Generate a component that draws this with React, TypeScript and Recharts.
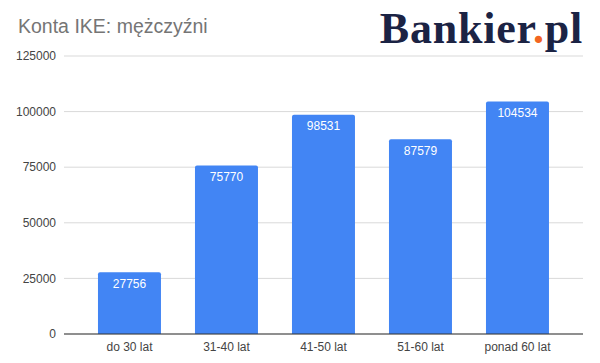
import { Bar, BarChart, CartesianGrid, LabelList, XAxis, YAxis } from "recharts";

const categories = ["do 30 lat", "31-40 lat", "41-50 lat", "51-60 lat", "ponad 60 lat"];
const accounts = [27756, 75770, 98531, 87579, 104534];
const yTicks = [0, 25000, 50000, 75000, 100000, 125000];

const data = categories.map((label, i) => ({ label, value: accounts[i] }));

export default function App() {
  return (
    <div
      style={{
        position: "fixed",
        top: 0,
        left: 0,
        width: 600,
        height: 363,
        background: "#fff",
        fontFamily: "Arial, 'Liberation Sans', sans-serif",
      }}
    >
      <div style={{ position: "absolute", left: 18, top: 15, fontSize: 19.5, lineHeight: "22px", color: "#757575" }}>
        Konta IKE: mężczyźni
      </div>
      <div
        style={{
          position: "absolute",
          right: 17,
          top: 3,
          fontSize: 44,
          fontWeight: 700,
          fontFamily: "'Liberation Serif', 'DejaVu Serif', serif",
          color: "#1b2344",
          letterSpacing: 0.8,
        }}
      >
        Bankier<span style={{ color: "#f26522" }}>.</span>pl
      </div>
      <BarChart
        width={600}
        height={363}
        data={data}
        margin={{ top: 56, right: 17, left: 0, bottom: 0 }}
        barCategoryGap="17.5%"
      >
        <CartesianGrid vertical={false} stroke="#d9d9d9" />
        <XAxis
          dataKey="label"
          padding={{ left: 17, right: 17 }}
          tickLine={false}
          axisLine={{ stroke: "#333" }}
          tick={{ fontSize: 12, fill: "#444" }}
          height={29}
          interval={0}
        />
        <YAxis
          width={64}
          domain={[0, 125000]}
          ticks={yTicks}
          tickLine={false}
          axisLine={false}
          tick={{ fontSize: 12, fill: "#444" }}
        />
        <Bar dataKey="value" fill="#4285f4" radius={[2, 2, 0, 0]} isAnimationActive={false}>
          <LabelList dataKey="value" position="insideTop" offset={7} fill="#fff" fontSize={12} fontWeight={500} />
        </Bar>
      </BarChart>
    </div>
  );
}
